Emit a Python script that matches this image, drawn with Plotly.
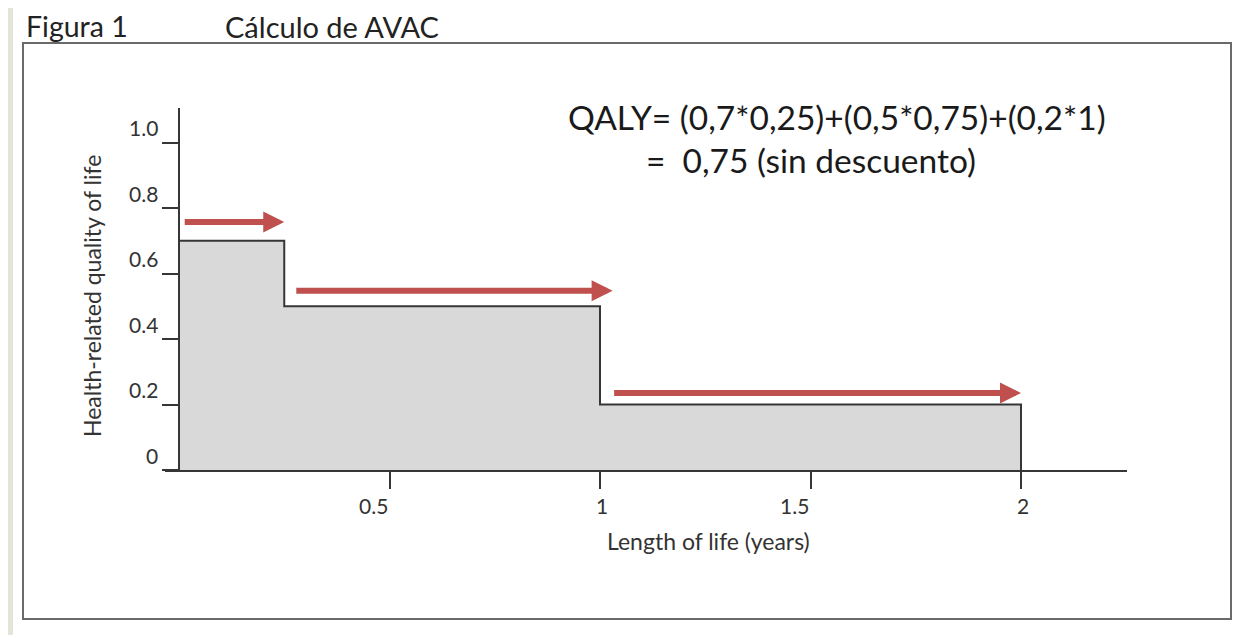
import plotly.graph_objects as go

# ---- data ----
segment_start = [0.0, 0.25, 1.0]
segment_end = [0.25, 1.0, 2.0]
utility = [0.7, 0.5, 0.2]

arrow_start_x = [0.01, 0.275, 1.03]
arrow_end_x = [0.25, 1.03, 2.0]
arrow_y = [0.757, 0.547, 0.235]

x_tick_vals = [0.5, 1, 1.5, 2]
x_tick_text = ["0.5", "1", "1.5", "2"]
y_tick_vals = [0, 0.2, 0.4, 0.6, 0.8, 1.0]
y_tick_text = ["0", "0.2", "0.4", "0.6", "0.8", "1.0"]

title_left = "Figura 1"
title_right = "Cálculo de AVAC"
formula_line1 = "QALY= (0,7*0,25)+(0,5*0,75)+(0,2*1)"
formula_line2 = "=\u00a0 0,75 (sin descuento)"
x_title = "Length of life (years)"
y_title = "Health-related quality of life"

# ---- geometry (page pixels; the page body has an 8px margin) ----
OFF = 8
W, H = 1259 - OFF, 635 - OFF
FONT = "Lato"
px_x = lambda p: (p - OFF) / W
px_y = lambda p: 1 - (p - OFF) / H

# step outline built from the segments
step_x, step_y = [], []
for s, e, u in zip(segment_start, segment_end, utility):
    step_x += [s, e]
    step_y += [u, u]
step_x.append(segment_end[-1])
step_y.append(0)

fig = go.Figure()
fig.add_trace(go.Scatter(
    x=step_x, y=step_y, mode="lines",
    line=dict(color="#363636", width=2),
    fill="tozeroy", fillcolor="#d9d9d9",
    hoverinfo="skip", showlegend=False,
))

x0_px, unit_x = 179, 421.0
y0_px, unit_y = 470, 327.5
x_range = [(165 - x0_px) / unit_x, (1127 - x0_px) / unit_x]
y_range = [0, (y0_px - 108) / unit_y]

TICK_FONT = dict(family=FONT, size=21, color="#333333")
annotations = []
# arrows
for xs, xe, ya in zip(arrow_start_x, arrow_end_x, arrow_y):
    annotations.append(dict(
        x=xe, y=ya, ax=xs, ay=ya, xref="x", yref="y", axref="x", ayref="y",
        showarrow=True, arrowhead=2, arrowsize=0.7, arrowwidth=6,
        arrowcolor="#c0504d", text="",
    ))
# y tick labels
for v, t in zip(y_tick_vals, y_tick_text):
    annotations.append(dict(
        x=0, y=v, xref="x", yref="y", text=t, showarrow=False,
        xanchor="right", yanchor="middle", xshift=-19, yshift=15,
        font=TICK_FONT,
    ))
# x tick labels
for v, t in zip(x_tick_vals, x_tick_text):
    dec = "." in t
    annotations.append(dict(
        x=v, y=0, xref="x", yref="y", text=t, showarrow=False,
        xanchor="right" if dec else "center", yanchor="middle",
        xshift=0 if dec else 2, yshift=-35,
        font=TICK_FONT,
    ))
# axis titles
annotations.append(dict(
    x=px_x(708), y=px_y(541), xref="paper", yref="paper", text=x_title,
    showarrow=False, xanchor="center", yanchor="middle",
    font=dict(family=FONT, size=23, color="#333333"),
))
annotations.append(dict(
    x=px_x(92), y=px_y(296), xref="paper", yref="paper", text=y_title,
    showarrow=False, xanchor="center", yanchor="middle", textangle=-90,
    font=dict(family=FONT, size=23, color="#333333"),
))
# formula
annotations.append(dict(
    x=px_x(566), y=px_y(117), xref="paper", yref="paper", text=formula_line1,
    showarrow=False, xanchor="left", yanchor="middle",
    font=dict(family=FONT, size=33.5, color="#1a1a1a"),
))
annotations.append(dict(
    x=px_x(644), y=px_y(160), xref="paper", yref="paper", text=formula_line2,
    showarrow=False, xanchor="left", yanchor="middle",
    font=dict(family=FONT, size=33.5, color="#1a1a1a"),
))
# figure titles (kept fully inside the figure's top edge)
annotations.append(dict(
    x=px_x(25), y=1, xref="paper", yref="paper", text=title_left,
    showarrow=False, xanchor="left", yanchor="top", borderpad=0,
    font=dict(family=FONT, size=28.5, color="#222222"),
))
annotations.append(dict(
    x=px_x(224), y=1, xref="paper", yref="paper", text=title_right,
    showarrow=False, xanchor="left", yanchor="top", borderpad=0,
    font=dict(family=FONT, size=29, color="#222222"),
))

shapes = [
    # beige side strips
    dict(type="rect", xref="paper", yref="paper", x0=0, x1=px_x(13), y0=0, y1=1,
         fillcolor="#e4e5d9", line=dict(width=0), layer="below"),
    dict(type="rect", xref="paper", yref="paper", x0=px_x(1254), x1=1, y0=0, y1=1,
         fillcolor="#e4e5d9", line=dict(width=0), layer="below"),
    # frame
    dict(type="rect", xref="paper", yref="paper", x0=px_x(23), x1=px_x(1231),
         y0=px_y(619), y1=px_y(43), line=dict(color="#6a6a6a", width=2),
         fillcolor="rgba(0,0,0,0)", layer="below"),
]

fig.update_layout(
    width=W, height=H, margin=dict(l=0, r=0, t=0, b=0),
    paper_bgcolor="white", plot_bgcolor="rgba(0,0,0,0)",
    showlegend=False, annotations=annotations, shapes=shapes,
    xaxis=dict(
        domain=[px_x(165), px_x(1127)], range=x_range,
        showgrid=False, zeroline=False, showline=True, linecolor="#363636", linewidth=2,
        ticks="outside", ticklen=17, tickwidth=2, tickcolor="#363636",
        tickvals=x_tick_vals, showticklabels=False, fixedrange=True,
    ),
    yaxis=dict(
        domain=[px_y(470), px_y(108)], range=y_range,
        anchor="free", position=px_x(179),
        showgrid=False, zeroline=False, showline=True, linecolor="#363636", linewidth=2,
        ticks="outside", ticklen=16, tickwidth=2, tickcolor="#363636",
        tickvals=y_tick_vals, showticklabels=False, fixedrange=True,
    ),
)

fig.write_html("out.html")
